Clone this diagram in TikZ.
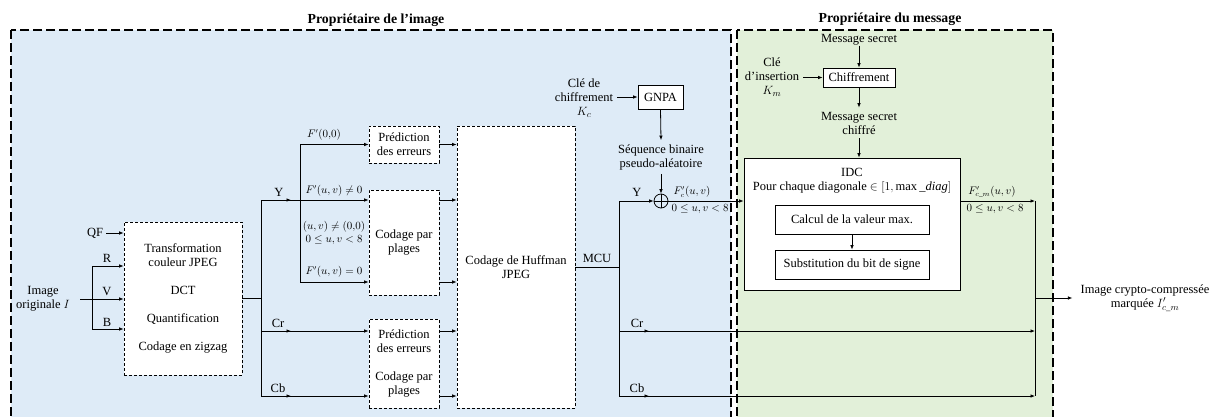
\documentclass[tikz,border=0pt]{standalone}
\usepackage{amsmath}
\usepackage{fontspec}
\setmainfont{Liberation Serif}
\usetikzlibrary{arrows.meta,decorations.markings}
\definecolor{ownerblue}{HTML}{DEEBF7}
\definecolor{ownergreen}{HTML}{E2F0D9}
\tikzset{
  every node/.style={font=\fontsize{12.5}{14}\selectfont, inner sep=0pt, align=center},
  mlabel/.style={font=\fontsize{10.5}{13}\selectfont},
  wire/.style={line width=0.8pt},
  arr/.style={wire, -{Latex[length=4.5pt,width=3.6pt]}},
  midarr/.style={wire, postaction={decorate},
    decoration={markings, mark=at position 30pt with {\arrow{Latex[length=4.5pt,width=3.6pt]}}}},
  dbox/.style={draw, fill=white, line width=0.8pt, dash pattern=on 3pt off 2pt},
  sbox/.style={draw, fill=white, line width=0.8pt},
  zone/.style={line width=1.6pt, dash pattern=on 9pt off 4pt},
  title/.style={font=\fontsize{13.8}{16}\selectfont\bfseries},
}
\begin{document}
\begin{tikzpicture}[x=1pt,y=-1pt]
\useasboundingbox (0,0) rectangle (1216,416);
\clip (0,0) rectangle (1216,416);
\fill[white] (0,0) rectangle (1216,416);

% owner zones
\draw[zone, fill=ownerblue] (11,30) rectangle (731,450);
\draw[zone, fill=ownergreen] (737,30) rectangle (1053,450);
\node[title] (t1) at (376,20) {Propriétaire de l’image};
\node[title] (t2) at (890,19) {Propriétaire du message};

% ---------- JPEG compression chain ----------
\node[dbox, minimum width=118pt, minimum height=153pt] (dct) at (183,298.5)
  {Transformation\\couleur JPEG\\[14pt]DCT\\[14pt]Quantification\\[14pt]Codage en zigzag};
\node[dbox, minimum width=70pt, minimum height=37pt] (pred) at (404,144.5)
  {Prédiction\\des erreurs};
\node[dbox, minimum width=70pt, minimum height=105pt] (rle) at (404,242.5)
  {Codage par\\plages};
\node[dbox, minimum width=70pt, minimum height=89pt] (pc) at (404,363.5)
  {Prédiction\\des erreurs\\[14pt]Codage par\\plages};
\node[dbox, minimum width=118pt, minimum height=282pt] (huff) at (516,267)
  {Codage de Huffman\\JPEG};

% image input
\node (img) at (43,299) {Image\\originale $I$};
\coordinate (rgbin) at (80,299);
\coordinate (rR) at (92,266);
\coordinate (rB) at (92,329);
\coordinate (qfo) at (106,233);
\node (qf) at (95,233) {QF};
\draw[arr] (rgbin) -- (dct.west |- rgbin);
\draw[arr] (rR) -- (dct.west |- rR);
\draw[arr] (rB) -- (dct.west |- rB);
\draw[wire] (rR) -- (rB);
\draw[arr] (qfo) -- (dct.west |- qfo);
\node (lr) at (107,258) {R};
\node (lv) at (107,291) {V};
\node (lb) at (107,322) {B};

% component split
\coordinate (yB) at (261,200);
\coordinate (crB) at (261,331);
\coordinate (cbB) at (261,396);
\draw[wire] (dct.east) -- (dct.east -| yB);
\draw[wire] (yB) -- (cbB);
\coordinate (fsplit) at (300,200);
\coordinate (f00) at (300,144.5);
\coordinate (f0) at (300,282);
\draw[midarr] (yB) -- (fsplit);
\node (ly) at (279,192) {Y};
\draw[wire] (f00) -- (f0);
\draw[arr] (f00) -- (pred.west |- f00);
\draw[arr] (fsplit) -- (rle.west |- fsplit);
\draw[arr] (f0) -- (rle.west |- f0);
\node[mlabel] (lf00) at (324,135) {$F'(0{,}0)$};
\node[mlabel] (lfnz) at (334,191) {$F'(u,v)\neq 0$};
\node[mlabel] (lac) at (334,232.5) {$(u,v)\neq(0{,}0)$\\$0\leq u,v<8$};
\node[mlabel] (lfz) at (334,272) {$F'(u,v)=0$};
\draw[midarr, arr] (crB) -- (pc.west |- crB);
\draw[midarr, arr] (cbB) -- (pc.west |- cbB);
\node (lcr) at (278,323) {Cr};
\node (lcb) at (278,388) {Cb};

% into Huffman coding
\draw[arr] (pred.east) -- (huff.west |- pred.east);
\draw[arr] (rle.east |- fsplit) -- (huff.west |- fsplit);
\draw[arr] (rle.east |- f0) -- (huff.west |- f0);
\draw[arr] (pc.east |- crB) -- (huff.west |- crB);
\draw[arr] (pc.east |- cbB) -- (huff.west |- cbB);

% ---------- selective encryption ----------
\coordinate (myB) at (619,201);
\coordinate (mcrB) at (619,331);
\coordinate (mcbB) at (619,396);
\draw[wire] (huff.east) -- (huff.east -| myB);
\draw[wire] (myB) -- (mcbB);
\node (lmcu) at (597,258) {MCU};
\node[circle, draw, line width=0.8pt, minimum size=14pt] (xor) at (661,201) {};
\draw[wire] (xor.north) -- (xor.south) (xor.west) -- (xor.east);
\draw[arr] (myB) -- (xor.west);
\node (lyy) at (637,192) {Y};
\node[inner ysep=4pt] (seq) at (661,157) {Séquence binaire\\pseudo-aléatoire};
\node[sbox, minimum width=45pt, minimum height=24pt] (gnpa) at (660.5,97) {GNPA};
\node[inner xsep=4pt] (kc) at (584,98) {Clé de\\chiffrement\\$K_c$};
\draw[arr] (kc.east |- gnpa) -- (gnpa.west);
\draw[arr] (gnpa.south) -- (seq.north);
\draw[arr] (seq.south) -- (xor.north);

% ---------- data hiding ----------
\node[sbox, minimum width=216pt, minimum height=132pt] (idc) at (852,224) {};
\node (idct) at (852,181) {IDC\\Pour chaque diagonale $\in[1,\max$\,\textit{\_diag}$]$};
\node[sbox, minimum width=154pt, minimum height=29pt] (calc) at (852,219.5) {Calcul de la valeur max.};
\node[sbox, minimum width=154pt, minimum height=29pt] (subst) at (852,264.5) {Substitution du bit de signe};
\draw[arr] (calc.south) -- (subst.north);
\draw[arr] (xor.east) -- (idc.west |- xor.east);
\node[mlabel] (lfc) at (692,192) {$F'_c(u,v)$};
\node[mlabel] (lfcr) at (700,209) {$0\leq u,v<8$};

\node (msg) at (859,40) {Message secret};
\node[sbox, minimum width=72pt, minimum height=19pt] (chif) at (859,77.5) {Chiffrement};
\node[inner ysep=4pt] (msgc) at (859,123) {Message secret\\chiffré};
\node[inner xsep=4pt] (km) at (772,77) {Clé\\d’insertion\\$K_m$};
\draw[arr] (msg.south) -- (chif.north);
\draw[arr] (km.east |- chif) -- (chif.west);
\draw[arr] (chif.south) -- (msgc.north);
\draw[arr] (msgc.south) -- (msgc.south |- idc.north);

% ---------- output ----------
\coordinate (oY) at (1035,201);
\coordinate (oCr) at (1035,331);
\coordinate (oCb) at (1035,396);
\coordinate (oMid) at (1035,298);
\draw[arr] (idc.east |- oY) -- (oY);
\node[mlabel] (lfm) at (992,192) {$F'_{c\_m}(u,v)$};
\node[mlabel] (lfmr) at (995,209) {$0\leq u,v<8$};
\draw[midarr, arr] (mcrB) -- (oCr);
\draw[midarr, arr] (mcbB) -- (oCb);
\node (lcr2) at (637,323) {Cr};
\node (lcb2) at (637,388) {Cb};
\draw[wire] (oY) -- (oCb);
\node[inner xsep=8pt] (out) at (1145,298) {Image crypto-compressée\\marquée $I'_{c\_m}$};
\draw[arr] (oMid) -- (out.west |- oMid);
\end{tikzpicture}
\end{document}
